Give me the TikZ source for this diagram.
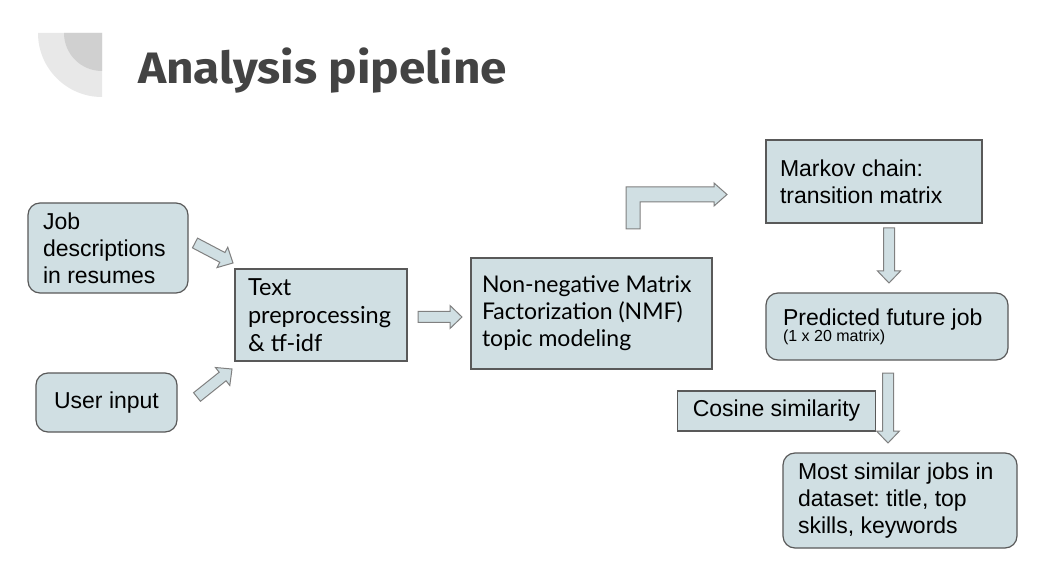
\documentclass[tikz,border=0pt]{standalone}
\usepackage{fontspec}
\usepackage{graphicx}
\setmainfont{Liberation Sans}
\newfontfamily\latofont{Lato}
\newfontfamily\headfont{Fira Sans}
\usetikzlibrary{calc}
\definecolor{boxfill}{HTML}{D0DFE3}
\definecolor{boxline}{HTML}{595959}
\definecolor{arrline}{HTML}{808080}
\definecolor{headgray}{HTML}{434343}
\definecolor{decolight}{HTML}{E8E8E8}
\definecolor{decodark}{HTML}{D0D0D0}
\frenchspacing
\newcommand{\blockarrow}[2]{%
\draw[arrowbox] ($(#1)!\shaftw!90:(#2)$) -- ($(#2)!\headl!(#1)!\shaftw!-90:(#1)$) -- ($(#2)!\headl!(#1)!\headw!-90:(#1)$) -- (#2) -- ($(#2)!\headl!(#1)!\headw!90:(#1)$) -- ($(#2)!\headl!(#1)!\shaftw!90:(#1)$) -- ($(#1)!\shaftw!-90:(#2)$) -- cycle;}
\begin{document}
\begin{tikzpicture}[x=1pt,y=-1pt,
  box/.style={draw=boxline,line width=1.2pt,fill=boxfill,inner xsep=15pt,inner ysep=0pt,align=flush left,font=\fontsize{23}{27}\selectfont},
  roundbox/.style={box,rounded corners=12pt},
  arrowbox/.style={draw=arrline,line width=1pt,fill=boxfill,line join=miter}]
\def\shaftw{5.5pt}
\def\headw{11.5pt}
\def\headl{12pt}
\fill[white] (0,0) rectangle (1055,577);
\useasboundingbox (0,0) rectangle (1055,577);
\fill[decolight] (102,33) -- (38,33) arc[start angle=180,end angle=270,radius=64pt] -- cycle;
\fill[decodark] (102,33) -- (64,33) arc[start angle=180,end angle=270,radius=38pt] -- cycle;
\node[anchor=base west,inner sep=0pt,text=headgray,font=\headfont\bfseries\fontsize{44}{50}\selectfont] (title) at (138,84) {\scalebox{1.086}[1]{Analysis pipeline}};
\node[roundbox,minimum height=90pt,text width=130pt] (jobs) at (108,248) {Job\\descriptions\\in resumes};
\node[roundbox,minimum height=59pt,minimum width=141pt] (user) at (106.5,402.5) {User input};
\node[box,inner xsep=13pt,minimum height=92pt,text width=146pt,font=\latofont\fontsize{23.5}{28}\selectfont] (prep) at (321,315) {Text\\preprocessing\\\& tf-idf};
\node[box,inner xsep=11pt,minimum height=111pt,text width=219pt,font=\latofont\fontsize{23}{27}\selectfont] (nmf) at (591.5,313.5) {Non-negative Matrix\\Factorization (NMF)\\topic modeling};
\node[box,inner xsep=14pt,minimum height=83pt,text width=188pt] (markov) at (874,181.5) {Markov chain:\\transition matrix};
\node[roundbox,inner xsep=17pt,minimum height=67pt,text width=208pt] (pred) at (887,326.5) {Predicted future job\\[-11pt]{\fontsize{16}{18}\selectfont (1 x 20 matrix)}};
\node[box,minimum height=40pt,minimum width=193pt] (cos) at (776.5,411) {Cosine similarity};
\node[roundbox,inner xsep=15pt,minimum height=95pt,text width=204pt] (similar) at (900,500.5) {Most similar jobs in\\dataset: title, top\\skills, keywords};
\coordinate (jobsout) at (195,243);
\coordinate (jobsin) at (233,263);
\coordinate (userout) at (197,397);
\coordinate (userin) at (232,369);
\coordinate (prepout) at (418,317);
\coordinate (prepin) at (462,317);
\coordinate (markovout) at (889,228);
\coordinate (markovin) at (889,283);
\coordinate (predout) at (888,373);
\coordinate (predin) at (888,443);
\blockarrow{jobsout}{jobsin}
\blockarrow{userout}{userin}
\blockarrow{prepout}{prepin}
\blockarrow{markovout}{markovin}
\blockarrow{predout}{predin}
\draw[arrowbox] (626,229) -- (626,187) -- (714,187) -- (714,183) -- (727,194.5) -- (714,206) -- (714,202) -- (640,202) -- (640,229) -- cycle;
\end{tikzpicture}
\end{document}
